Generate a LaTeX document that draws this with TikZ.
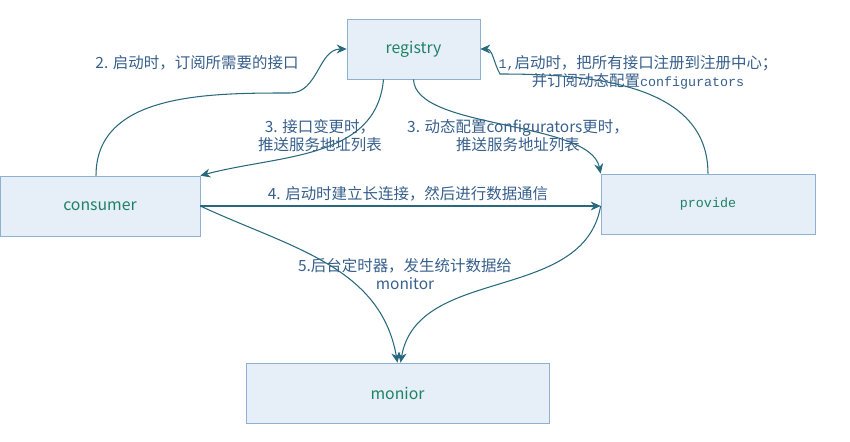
\documentclass[tikz,border=0pt]{standalone}
\usepackage{fontspec}
\setmainfont{Noto Sans CJK SC}
\setmonofont{Liberation Mono}
\usepackage{xcolor}
\usepackage{tikz}
\usetikzlibrary{positioning,arrows.meta,calc}
\definecolor{boxclr}{RGB}{143,176,208}
\definecolor{boxfill}{RGB}{230,238,248}
\definecolor{nameclr}{RGB}{30,130,100}
\definecolor{lblclr}{RGB}{55,95,140}
\definecolor{lineclr}{RGB}{40,105,125}
\newcommand{\monotxt}[1]{{\ttfamily\fontsize{7.6}{10}\selectfont #1}}
\tikzset{
    box/.style={rectangle,draw=boxclr,fill=boxfill,
                minimum height=1.2cm,inner sep=2pt,
                font=\fontsize{9}{11}\selectfont,text=nameclr},
    lbl/.style={font=\fontsize{8.8}{10.2}\selectfont,text=lblclr,
                align=center,inner sep=1pt},
    edge/.style={-{Stealth[length=2mm,width=1.8mm]},lineclr,semithick},
}

\begin{document}
\begin{tikzpicture}[x=0.02cm,y=-0.02cm]
\useasboundingbox (0,0) rectangle (850,442);

% boxes
\node[box,minimum width=2.66cm] (registry) at (413.5,49)  {registry};
\node[box,minimum width=4cm]    (consumer) at (100,206)   {consumer};
\node[box,minimum width=4.28cm] (provide)  at (708,204)   {\monotxt{provide}};
\node[box,minimum width=6.06cm] (monior)   at (397.5,393) {monior};

% bends
\coordinate (bend2) at (290,93);
\coordinate (bend1) at (500,74);

% connectors
\draw[edge] ($(consumer.north)+(-4,0)$) to[out=90,in=180] (bend2)
            to[out=0,in=180] (registry.west);
\draw[edge] (provide.north) to[out=90,in=0] (bend1)
            to[out=120,in=0] (registry.east);
\draw[edge] ($(registry.south)+(-30,0)$) to[out=-95,in=15] (consumer.north east);
\draw[edge] (registry.south) .. controls (415,130) and (590,120) .. (provide.north west);
\draw[edge] (consumer.east) -- (consumer.east -| provide.west);
\draw[edge] (consumer.east) to[out=-25,in=100] (monior.north);
\draw[edge] (consumer.east -| provide.west) to[out=-100,in=80] ($(monior.north)+(3,0)$);

% labels
\node[lbl] (l2)  at (197,63)  {2. 启动时，订阅所需要的接口};
\node[lbl] (l1)  at (638,72)  {\monotxt{1,}启动时，把所有接口注册到注册中心；\\并订阅动态配置\monotxt{configurators}};
\node[lbl] (l3a) at (320,136) {3. 接口变更时，\\推送服务地址列表};
\node[lbl] (l3b) at (518,136) {3. 动态配置configurators更时，\\推送服务地址列表};
\node[lbl] (l4)  at (408,194) {4. 启动时建立长连接，然后进行数据通信};
\node[lbl] (l5)  at (405,274) {5.后台定时器，发生统计数据给\\monitor};
\end{tikzpicture}
\end{document}
